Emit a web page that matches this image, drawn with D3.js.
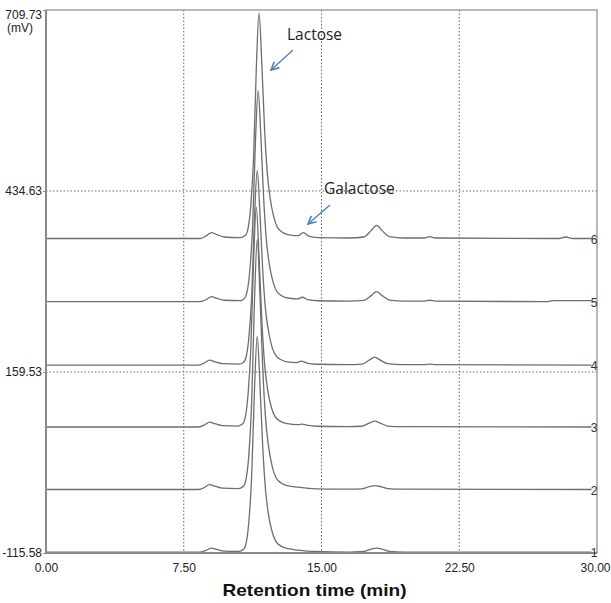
<!DOCTYPE html>
<html><head><meta charset="utf-8">
<script src="https://cdn.jsdelivr.net/npm/d3@7"></script>
<style>body{margin:0;background:#fff}</style>
</head><body><svg id="c" width="611" height="603"></svg>
<script>
const xTicks=[0,7.5,15,22.5,30];
const xTickLabels=["0.00","7.50","15.00","22.50","30.00"];
const yTicks=[709.73,434.63,159.53,-115.58];
const yTickLabels=["709.73","434.63","159.53","-115.58"];
const gridX=[7.5,15,22.5];
const gridY=[434.63,159.53];
const traceNames=["1","2","3","4","5","6"];
const traceOffsets=[-114.1,-19.1,75.9,170.1,266.6,362.4];
const trace1=[[0,0],[8.4,0],[8.75,3],[9.0,6],[9.3,4],[9.7,1.5],[10.5,1],[10.75,4],[10.9,14],[11.05,48],[11.2,117],[11.35,246],[11.5,328],[11.65,254],[11.8,160],[11.95,95],[12.1,59],[12.3,32],[12.5,17],[12.8,9],[13.2,5],[13.7,3],[14.2,1.5],[14.7,0.8],[16.4,0],[17.3,0.8],[17.7,4.5],[18.0,6],[18.3,4.5],[18.7,1],[19.5,0],[29.7,0]];
const trace2=[[0,0],[8.3,0],[8.65,3.5],[8.9,7.5],[9.2,5],[9.6,2],[10.5,1.5],[10.75,5],[10.9,17],[11.05,55],[11.2,135],[11.35,286],[11.5,380],[11.65,295],[11.8,185],[11.95,110],[12.1,69],[12.3,37],[12.5,19],[12.8,10],[13.2,5.5],[13.7,3.5],[14.2,2],[14.7,1],[16.4,0.5],[17.2,1],[17.6,4.5],[17.9,6],[18.2,4.5],[18.6,1.5],[19.4,0.5],[29.7,0]];
const trace3=[[0,0],[8.3,0],[8.65,3.5],[8.9,7.5],[9.2,5],[9.6,2],[10.45,1.5],[10.7,4.5],[10.85,15],[11.0,49],[11.15,119],[11.3,251],[11.45,334],[11.6,259],[11.75,163],[11.9,96],[12.05,60],[12.25,32],[12.45,17],[12.75,9],[13.15,5],[13.7,3.5],[13.95,4.5],[14.2,3],[14.7,1.2],[16.4,0.6],[17.2,1.2],[17.6,6],[17.9,9],[18.2,6],[18.6,1.5],[19.4,0.5],[29.7,0]];
const trace4=[[0,0],[8.3,0],[8.65,3.5],[8.9,7.5],[9.2,5],[9.6,2],[10.5,1.5],[10.75,4],[10.9,13],[11.05,43],[11.2,105],[11.35,223],[11.5,296],[11.65,230],[11.8,144],[11.95,85],[12.1,54],[12.3,28],[12.5,15],[12.8,8],[13.2,4.5],[13.65,3.8],[13.9,6],[14.2,3],[14.7,1.2],[16.4,0.6],[17.2,1.5],[17.6,7.5],[17.9,12],[18.2,7.5],[18.6,2],[19.4,0.5],[20.6,0.5],[20.9,1.5],[21.2,0.5],[29.7,0]];
const trace5=[[0,0],[8.4,0],[8.75,3.5],[9.0,7.5],[9.3,5],[9.7,2],[10.6,1.5],[10.8,4.5],[10.95,15],[11.1,48],[11.25,115],[11.4,240],[11.55,321],[11.7,250],[11.85,157],[12.0,93],[12.15,58],[12.35,31],[12.55,16],[12.85,8.5],[13.25,5],[13.7,4],[13.95,6.5],[14.25,3],[14.8,1.2],[16.5,0.6],[17.3,1.8],[17.7,9],[18.0,15],[18.3,9],[18.7,2.3],[19.5,0.6],[20.6,0.6],[20.9,2],[21.2,0.6],[27.3,0],[27.6,1.5],[29.7,1.5]];
const trace6=[[0,0],[8.4,0],[8.75,4.5],[9.0,9],[9.3,6],[9.7,2.3],[10.6,1.5],[10.85,4.5],[11.0,15],[11.15,50],[11.3,122],[11.45,258],[11.6,343],[11.75,266],[11.9,167],[12.05,99],[12.2,62],[12.4,33],[12.6,17],[12.9,9],[13.3,5.3],[13.75,4.5],[14.0,9],[14.3,3.8],[14.8,1.5],[16.5,0.8],[17.3,2.3],[17.7,12],[18.0,20],[18.3,12],[18.7,3],[19.5,0.8],[20.6,0.8],[20.9,3],[21.2,0.8],[27.9,0],[28.3,2.3],[28.7,0],[29.7,0]];
const traces=[trace1,trace2,trace3,trace4,trace5,trace6];
const annotationLabels=["Lactose","Galactose"];

const svg=d3.select("#c");
const L=46,R=597,T=10,B=553;
const x=d3.scaleLinear().domain([0,30]).range([L,R]);
const y=d3.scaleLinear().domain([-115.58,709.73]).range([B,T]);

// grid
svg.append("g").selectAll("line").data(gridX).join("line")
  .attr("x1",d=>x(d)).attr("x2",d=>x(d)).attr("y1",T).attr("y2",B)
  .attr("stroke","#666").attr("stroke-width",1).attr("stroke-dasharray","1.5,2");
svg.append("g").selectAll("line").data(gridY).join("line")
  .attr("x1",L).attr("x2",R).attr("y1",d=>y(d)).attr("y2",d=>y(d))
  .attr("stroke","#666").attr("stroke-width",1).attr("stroke-dasharray","1.5,2");

// traces
const line=d3.line().x(d=>x(d[0])).curve(d3.curveMonotoneX);
traces.forEach((tr,i)=>{
  svg.append("path").datum(tr)
    .attr("d",line.y(d=>y(d[1]+traceOffsets[i])))
    .attr("fill","none").attr("stroke","#6e6e6e").attr("stroke-width",1.3);
});

// frame
svg.append("rect").attr("x",L).attr("y",T).attr("width",R-L).attr("height",B-T)
  .attr("fill","none").attr("stroke","#8a8a8a").attr("stroke-width",1.2);
svg.append("line").attr("x1",L).attr("x2",L).attr("y1",T).attr("y2",B+1).attr("stroke","#8a8a8a").attr("stroke-width",2);
svg.append("line").attr("x1",L).attr("x2",R).attr("y1",B).attr("y2",B).attr("stroke","#8a8a8a").attr("stroke-width",2);

// y axis
const yAxis=d3.axisLeft(y).tickValues(yTicks).tickFormat((d,i)=>yTickLabels[i]).tickSize(3).tickPadding(1);
const gy=svg.append("g").attr("transform",`translate(${L},0)`).call(yAxis);
gy.select(".domain").remove();
gy.selectAll("line").attr("stroke","#8a8a8a");
gy.selectAll("text").attr("font-family","Liberation Sans, Arial, sans-serif").attr("font-size",12).attr("fill","#222");
gy.selectAll(".tick").filter(d=>d===709.73).select("text").attr("dy","0.7em");
svg.append("text").attr("x",7).attr("y",32).text("(mV)")
  .attr("font-family","Liberation Sans, Arial, sans-serif").attr("font-size",12).attr("fill","#222");

// x axis
const xAxis=d3.axisBottom(x).tickValues(xTicks).tickFormat((d,i)=>xTickLabels[i]).tickSize(0).tickPadding(10);
const gx=svg.append("g").attr("transform",`translate(0,${B})`).call(xAxis);
gx.select(".domain").remove();
gx.selectAll("text").attr("font-family","Liberation Sans, Arial, sans-serif").attr("font-size",12).attr("fill","#222");
gx.selectAll(".tick").filter(d=>d===30).select("text").attr("text-anchor","end").attr("dx","13");
svg.append("text").attr("x",(L+R)/2-7).attr("y",596).attr("text-anchor","middle")
  .attr("font-family","Liberation Sans, Arial, sans-serif").attr("font-size",17).attr("font-weight","bold").attr("fill","#111")
  .attr("textLength",184).attr("lengthAdjust","spacingAndGlyphs")
  .text("Retention time (min)");

// trace labels
svg.append("g").selectAll("text").data(traceNames).join("text")
  .attr("x",594).attr("y",(d,i)=>y(traceOffsets[i])+5).attr("text-anchor","middle")
  .attr("font-family","Liberation Sans, Arial, sans-serif").attr("font-size",12).attr("fill","#333")
  .text(d=>d);

// annotations
svg.append("defs").append("marker").attr("id","ah").attr("viewBox","0 0 10 10").attr("refX",9).attr("refY",5)
  .attr("markerWidth",7).attr("markerHeight",7).attr("orient","auto")
  .append("path").attr("d","M1,1 L9,5 L1,9").attr("fill","none").attr("stroke","#4f81bd").attr("stroke-width",1.6);
const ann=[{t:annotationLabels[0],tx:287,ty:40,x1:293,y1:50,x2:271,y2:70},
           {t:annotationLabels[1],tx:324,ty:194,x1:330,y1:205,x2:308,y2:224}];
ann.forEach(a=>{
  svg.append("text").attr("x",a.tx).attr("y",a.ty).text(a.t)
    .attr("font-family","Open Sans, sans-serif").attr("font-size",15.5).attr("fill","#222");
  svg.append("line").attr("x1",a.x1).attr("y1",a.y1).attr("x2",a.x2).attr("y2",a.y2)
    .attr("stroke","#4f81bd").attr("stroke-width",1.4).attr("marker-end","url(#ah)");
});
</script></body></html>
